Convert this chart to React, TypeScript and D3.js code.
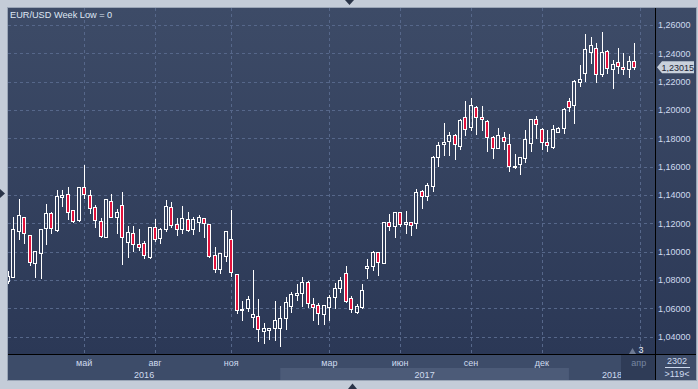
import React from "react";
import * as d3 from "d3";

// weekly EUR/USD candles
const opens = [
  1.0795, 1.0825, 1.1145, 1.1244, 1.1119, 1.0920, 1.0990, 1.1166, 1.1272, 1.1154,
  1.1389, 1.1408, 1.1295, 1.1225, 1.1458, 1.1399, 1.1314, 1.1218, 1.1107, 1.1359,
  1.1248, 1.1329, 1.1072, 1.1131, 1.1053, 1.1061, 1.0966, 1.1173, 1.1096, 1.1159,
  1.1314, 1.1195, 1.1159, 1.1234, 1.1161, 1.1211, 1.1237, 1.1197, 1.0976, 1.0877,
  1.0971, 1.1089, 1.0842, 1.0588, 1.0602, 1.0539, 1.0548, 1.0444, 1.0446, 1.0461,
  1.0465, 1.0532, 1.0620, 1.0696, 1.0712, 1.0786, 1.0630, 1.0623, 1.0560, 1.0613,
  1.0680, 1.0743, 1.0849, 1.0673, 1.0578, 1.0609, 1.0884, 1.0903, 1.0999, 1.0924,
  1.1211, 1.1185, 1.1279, 1.1199, 1.1209, 1.1202, 1.1429, 1.1396, 1.1467, 1.1671,
  1.1761, 1.1784, 1.1822, 1.1749, 1.1949, 1.1879, 1.2020, 1.1949, 1.1921, 1.1808,
  1.1735, 1.1808, 1.1759, 1.1597, 1.1618, 1.1660, 1.1766, 1.1935, 1.1869, 1.1775,
  1.1742, 1.1848, 1.1872, 1.2066, 1.2034, 1.2200, 1.2259, 1.2412, 1.2436, 1.2252,
  1.2417, 1.2288, 1.2341, 1.2306, 1.2288, 1.2348,
];
const highs = [
  1.0872, 1.1253, 1.1380, 1.1253, 1.1125, 1.1010, 1.1165, 1.1347, 1.1290, 1.1441,
  1.1441, 1.1465, 1.1300, 1.1467, 1.1620, 1.1446, 1.1338, 1.1248, 1.1380, 1.1417,
  1.1307, 1.1431, 1.1190, 1.1188, 1.1171, 1.1084, 1.1176, 1.1237, 1.1178, 1.1371,
  1.1359, 1.1248, 1.1331, 1.1290, 1.1253, 1.1267, 1.1248, 1.1206, 1.1042, 1.1001,
  1.1150, 1.1302, 1.0846, 1.0661, 1.0696, 1.0879, 1.0677, 1.0501, 1.0472, 1.0661,
  1.0625, 1.0691, 1.0724, 1.0778, 1.0830, 1.0802, 1.0684, 1.0649, 1.0632, 1.0703,
  1.0786, 1.0830, 1.0908, 1.0696, 1.0637, 1.0783, 1.0959, 1.1013, 1.1001, 1.1220,
  1.1276, 1.1288, 1.1288, 1.1295, 1.1218, 1.1448, 1.1443, 1.1491, 1.1683, 1.1782,
  1.1914, 1.1852, 1.1840, 1.1942, 1.2071, 1.2090, 1.2036, 1.2036, 1.1935, 1.1824,
  1.1879, 1.1855, 1.1836, 1.1695, 1.1678, 1.1867, 1.1942, 1.1965, 1.1879, 1.1867,
  1.1902, 1.1888, 1.2024, 1.2094, 1.2217, 1.2323, 1.2541, 1.2525, 1.2482, 1.2558,
  1.2429, 1.2358, 1.2443, 1.2412, 1.2388, 1.2478,
];
const lows = [
  1.0781, 1.0819, 1.1089, 1.1065, 1.0908, 1.0825, 1.0818, 1.1056, 1.1135, 1.1147,
  1.1324, 1.1230, 1.1213, 1.1218, 1.1382, 1.1276, 1.1178, 1.1107, 1.1103, 1.1244,
  1.1131, 1.0912, 1.0966, 1.1006, 1.1013, 1.0955, 1.0955, 1.1079, 1.1065, 1.1149,
  1.1178, 1.1119, 1.1135, 1.1147, 1.1126, 1.1149, 1.1103, 1.0962, 1.0860, 1.0849,
  1.0938, 1.0832, 1.0567, 1.0520, 1.0583, 1.0472, 1.0367, 1.0355, 1.0384, 1.0374,
  1.0338, 1.0454, 1.0578, 1.0661, 1.0618, 1.0609, 1.0520, 1.0491, 1.0491, 1.0520,
  1.0602, 1.0719, 1.0649, 1.0578, 1.0571, 1.0604, 1.0818, 1.0872, 1.0837, 1.0920,
  1.1154, 1.1107, 1.1183, 1.1131, 1.1119, 1.1171, 1.1312, 1.1366, 1.1431, 1.1606,
  1.1683, 1.1683, 1.1655, 1.1726, 1.1824, 1.1860, 1.1831, 1.1860, 1.1714, 1.1664,
  1.1731, 1.1726, 1.1573, 1.1590, 1.1549, 1.1636, 1.1714, 1.1801, 1.1726, 1.1714,
  1.1735, 1.1843, 1.1840, 1.1994, 1.1911, 1.2170, 1.2207, 1.2330, 1.2200, 1.2240,
  1.2264, 1.2154, 1.2264, 1.2254, 1.2235, 1.2290,
];
const closes = [
  1.0830, 1.1159, 1.1258, 1.1131, 1.0931, 1.1006, 1.1161, 1.1272, 1.1166, 1.1392,
  1.1399, 1.1283, 1.1220, 1.1460, 1.1408, 1.1307, 1.1225, 1.1114, 1.1373, 1.1248,
  1.1279, 1.1107, 1.1138, 1.1056, 1.1032, 1.0978, 1.1173, 1.1089, 1.1159, 1.1324,
  1.1190, 1.1159, 1.1237, 1.1154, 1.1230, 1.1244, 1.1202, 1.0971, 1.0881, 1.0990,
  1.1147, 1.0856, 1.0592, 1.0597, 1.0668, 1.0560, 1.0454, 1.0461, 1.0463, 1.0520,
  1.0536, 1.0644, 1.0703, 1.0710, 1.0788, 1.0642, 1.0613, 1.0567, 1.0623, 1.0680,
  1.0743, 1.0802, 1.0656, 1.0595, 1.0618, 1.0731, 1.0900, 1.1001, 1.0931, 1.1209,
  1.1180, 1.1283, 1.1195, 1.1209, 1.1192, 1.1424, 1.1396, 1.1472, 1.1669, 1.1754,
  1.1775, 1.1824, 1.1759, 1.1930, 1.1864, 1.2036, 1.1949, 1.1939, 1.1812, 1.1735,
  1.1822, 1.1780, 1.1608, 1.1604, 1.1667, 1.1794, 1.1935, 1.1902, 1.1773, 1.1752,
  1.1864, 1.1872, 1.2008, 1.2024, 1.2205, 1.2217, 1.2429, 1.2459, 1.2252, 1.2410,
  1.2295, 1.2323, 1.2311, 1.2288, 1.2348, 1.23015,
];

const priceTicks = [1.04, 1.06, 1.08, 1.1, 1.12, 1.14, 1.16, 1.18, 1.2, 1.22, 1.24, 1.26];
// month labels and the week (candle index) where each month starts
const monthLabels = ["май", "авг", "ноя", "мар", "июн", "сен", "дек", "апр"];
const monthWeeks = [14, 27, 41, 59, 72, 85, 98, 116];
const yearLabels = ["2016", "2017", "2018"];
const yearStartWeeks = [-2, 50, 103];

const lastPrice = 1.23015;

const W = 698;
const H = 389;
const plot = { left: 8, top: 8, right: 655, bottom: 354 };
const axisRight = 696;
const axisBottom = 380;

const FONT = "'Liberation Sans', Arial, sans-serif";
const GRID = "#56678a";
const TXT = "#cfdbef";
const RED = "#e2123c";

export default function App() {
  const x = d3.scaleLinear().domain([0, 116]).range([7.9, 639.8]);
  const y = d3.scaleLinear().domain([1.04, 1.26]).range([336.8, 25]);
  const fmt = (v: number) => d3.format(".5f")(v).replace(".", ",");

  const candles = opens.map((o, i) => ({ o, h: highs[i], l: lows[i], c: closes[i] }));

  const yearEnds = yearStartWeeks.map((w, i) =>
    i < yearStartWeeks.length - 1 ? x(yearStartWeeks[i + 1]) : plot.right
  );

  return (
    <svg
      width={W}
      height={H}
      style={{ position: "absolute", left: 0, top: 0, display: "block" }}
      fontFamily={FONT}
    >
      <defs>
        <linearGradient id="bg" x1="0" y1="0" x2="0" y2="1">
          <stop offset="0%" stopColor="#3d4b67" />
          <stop offset="100%" stopColor="#2b3856" />
        </linearGradient>
        <clipPath id="plotClip">
          <rect x={plot.left} y={plot.top} width={plot.right - plot.left} height={plot.bottom - plot.top} />
        </clipPath>
      </defs>

      {/* outer frame */}
      <rect x={0} y={0} width={W} height={H} fill="#c4ccd8" />
      <rect
        x={plot.left - 0.5}
        y={plot.top - 0.5}
        width={axisRight - plot.left + 1}
        height={axisBottom - plot.top + 1}
        fill="none"
        stroke="#9aa5b6"
      />
      <rect x={plot.left} y={plot.top} width={axisRight - plot.left} height={plot.bottom - plot.top} fill="url(#bg)" />

      {/* bottom axis band */}
      <rect x={plot.left} y={plot.bottom} width={axisRight - plot.left} height={axisBottom - plot.bottom} fill="#3d4c69" />
      {yearLabels.map((lab, i) => {
        const x0 = Math.max(plot.left, x(yearStartWeeks[i]));
        const x1 = yearEnds[i];
        return (
          <g key={lab}>
            <rect x={x0} y={368} width={x1 - x0} height={axisBottom - 368} fill={i % 2 === 1 ? "#4c5b78" : "#3d4c69"} />
            <text x={(x0 + x1) / 2} y={377.5} fontSize={9} fill={TXT} textAnchor="middle">
              {lab}
            </text>
          </g>
        );
      })}

      {/* grid */}
      <g stroke={GRID} strokeDasharray="3,3" strokeWidth={1}>
        {priceTicks.map((p) => (
          <line key={p} x1={plot.left} x2={plot.right} y1={Math.round(y(p)) + 0.5} y2={Math.round(y(p)) + 0.5} />
        ))}
        {monthWeeks.map((w) => (
          <line key={w} x1={Math.round(x(w)) + 0.5} x2={Math.round(x(w)) + 0.5} y1={plot.top} y2={plot.bottom} />
        ))}
      </g>

      {/* month labels */}
      {monthLabels.slice(0, -1).map((lab, i) => (
        <text key={lab} x={x(monthWeeks[i])} y={366} fontSize={9} fill={TXT} textAnchor="middle">
          {lab}
        </text>
      ))}

      {/* candles */}
      <g clipPath="url(#plotClip)" shapeRendering="crispEdges">
        {candles.map((d, i) => {
          const cx = Math.round(x(i));
          const top = Math.round(y(Math.max(d.o, d.c))) + 0.5;
          let bot = Math.round(y(Math.min(d.o, d.c))) + 0.5;
          if (bot - top < 1) bot = top + 1;
          const hy = Math.round(y(d.h)) + 0.5;
          const ly = Math.round(y(d.l)) + 0.5;
          const down = d.c < d.o;
          return (
            <g key={i}>
              {hy < top && <line x1={cx + 0.5} x2={cx + 0.5} y1={hy} y2={top} stroke="#fff" />}
              {ly > bot && <line x1={cx + 0.5} x2={cx + 0.5} y1={bot} y2={ly} stroke="#fff" />}
              <rect
                x={cx - 1.5}
                y={top}
                width={3}
                height={bot - top}
                fill={down ? RED : "none"}
                stroke="#fff"
                strokeWidth={1}
              />
            </g>
          );
        })}
      </g>

      {/* title */}
      <text x={10} y={17.5} fontSize={9.2} fill="#dfe7f4">
        EUR/USD Week Low = 0
      </text>

      {/* right price axis */}
      {priceTicks.map((p) => (
        <text key={p} x={658} y={y(p) + 3.2} fontSize={9} fill={TXT}>
          {fmt(p)}
        </text>
      ))}
      <path
        d={`M657,${y(lastPrice)} L662,${y(lastPrice) - 6} H694 V${y(lastPrice) + 6} H662 Z`}
        fill="#c9d1dc"
      />
      <text x={661.5} y={y(lastPrice) + 3.3} fontSize={9} fill="#1b2436">
        {fmt(lastPrice)}
      </text>

      {/* cursor box at the last month */}
      <rect x={621} y={355} width={plot.right - 621} height={axisBottom - 355} fill="#2f3c57" />
      <text x={x(monthWeeks[7]) - 1} y={366} fontSize={9} fill="#7786a1" textAnchor="middle">
        {monthLabels[7]}
      </text>
      <path d="M629,354 L636,354 L632.5,348 Z" fill="#6d7a93" />
      <text x={641} y={352.5} fontSize={9} fill="#e6ecf6" textAnchor="middle">
        3
      </text>

      {/* axis separators */}
      <line x1={plot.left} x2={axisRight} y1={354.5} y2={354.5} stroke="#000" />
      <line x1={655.5} x2={655.5} y1={plot.top} y2={axisBottom} stroke="#000" />

      {/* corner counters */}
      <text x={677} y={364} fontSize={9} fill={TXT} textAnchor="middle">
        2302
      </text>
      <line x1={665} x2={690} y1={367.5} y2={367.5} stroke={TXT} />
      <text x={677} y={377} fontSize={9} fill={TXT} textAnchor="middle">
        {">119<"}
      </text>

      {/* scroll markers */}
      <path d="M345,0 L354,0 L349.5,5 Z" fill="#2a3448" />
      <path d="M0,189 L0,198 L5,193.5 Z" fill="#2a3448" />
      <path d="M348,389 L357,389 L352.5,383.5 Z" fill="#2a3448" />
    </svg>
  );
}
